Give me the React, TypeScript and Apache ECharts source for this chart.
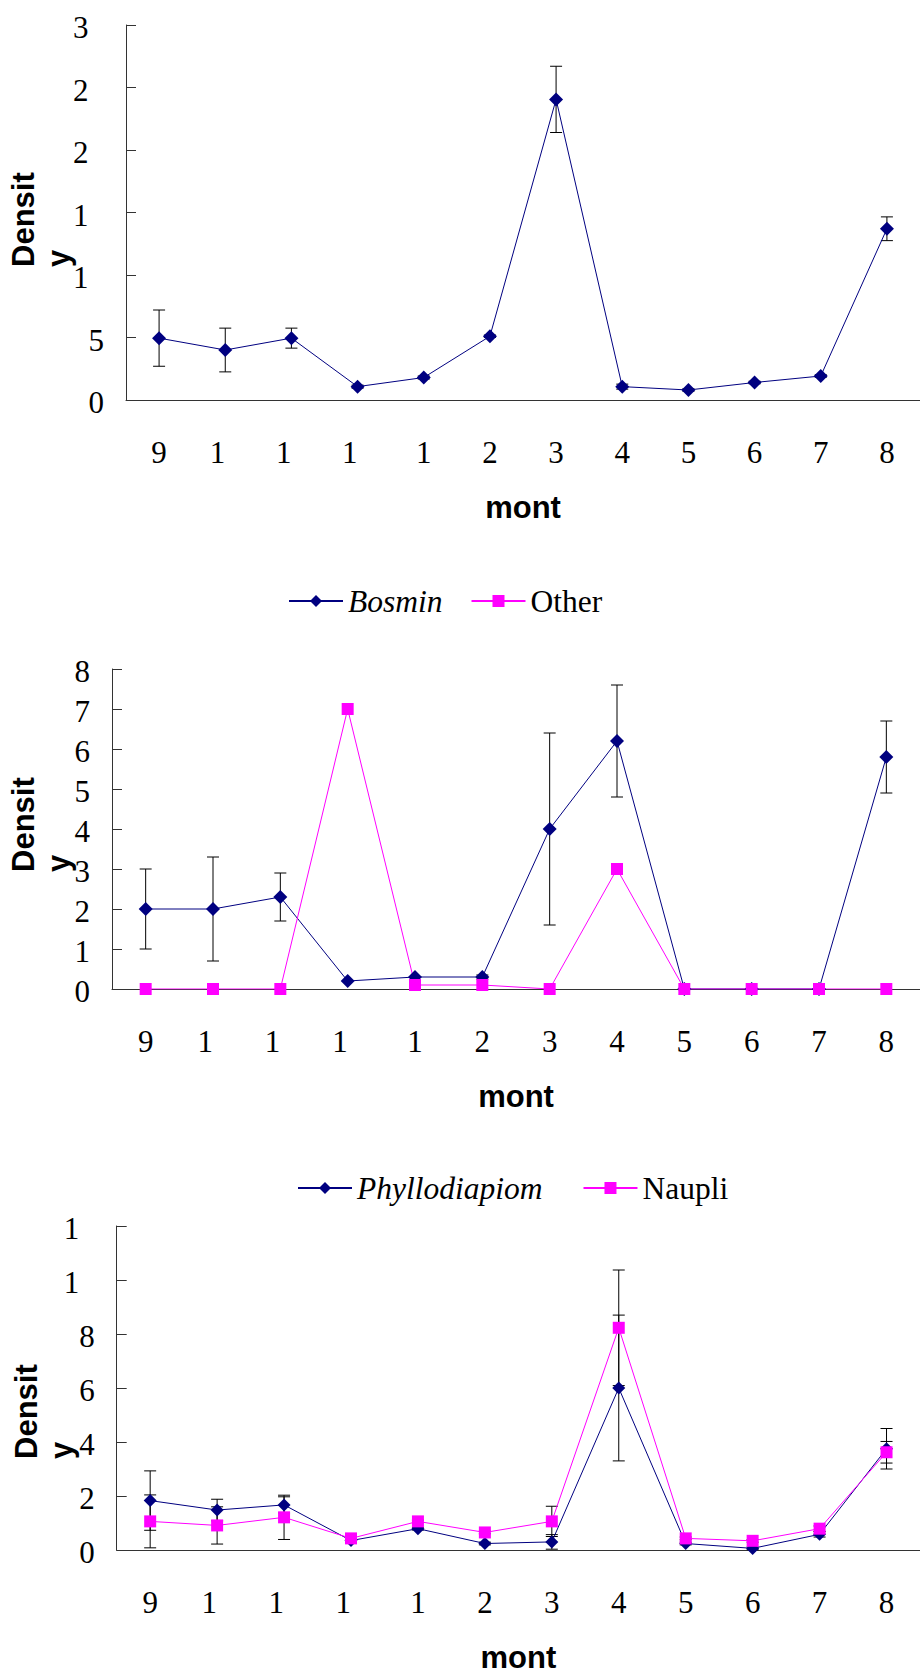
import React, { useEffect, useRef } from 'react';
import * as echarts from 'echarts';

// ---------- data ----------
const months = ['9', '10', '11', '12', '1', '2', '3', '4', '5', '6', '7', '8'];

// chart 1 (single series, y axis 0..30)
const density1 = [4.95, 4.0, 4.95, 1.07, 1.8, 5.1, 24.05, 1.07, 0.8, 1.4, 1.92, 13.7];
const density1Err = [2.25, 1.75, 0.8, 0.12, 0.12, 0.1, 2.65, 0.2, 0.1, 0.1, 0.1, 0.95];

// chart 2 (y axis 0..8)
const bosmin = [2.0, 2.0, 2.3, 0.2, 0.3, 0.3, 4.0, 6.2, 0, 0, 0, 5.8];
const bosminErr = [1.0, 1.3, 0.6, 0, 0, 0.05, 2.4, 1.4, 0, 0, 0, 0.9];
const other = [0, 0, 0, 7.0, 0.1, 0.1, 0, 3.0, 0, 0, 0, 0];

// chart 3 (y axis 0..12)
const phyllo = [1.83, 1.48, 1.67, 0.35, 0.79, 0.24, 0.3, 6.0, 0.24, 0.06, 0.58, 3.75];
const phylloErr = [1.1, 0.4, 0.3, 0.05, 0.05, 0.05, 0.27, 2.7, 0.05, 0.05, 0.1, 0.75];
const naupli = [1.06, 0.91, 1.21, 0.43, 1.06, 0.65, 1.06, 8.23, 0.43, 0.34, 0.79, 3.62];
const naupliErr = [0.98, 0.69, 0.82, 0.05, 0.05, 0.05, 0.56, 2.14, 0.05, 0.05, 0.1, 0.4];

const yAxes = [
  { max: 30, interval: 5 },
  { max: 8, interval: 1 },
  { max: 12, interval: 2 },
];

// ---------- styles ----------
const SERIF = '"Times New Roman", "Liberation Serif", serif';
const SANS = 'Arial, "Liberation Sans", sans-serif';
const NAVY = '#000080';
const MAGENTA = '#FF00FF';
const AXIS = '#333333';
const FS = 31;
const DIGIT = FS / 2;
const LFS = 31.5;

const baseTxt = { fontSize: FS, fontFamily: SERIF, color: '#000' };
const legTxt = { fontSize: LFS, fontFamily: SERIF, color: '#000' };
const xRich = {
  p0: { ...baseTxt },
  p1: { ...baseTxt, padding: [0, DIGIT, 0, 0] },
  p2: { ...baseTxt, padding: [0, DIGIT * 2, 0, 0] },
};
const yRich = {
  p0: { ...baseTxt, padding: [5, 0, 0, 0] },
  p1: { ...baseTxt, padding: [5, DIGIT, 0, 0] },
  p2: { ...baseTxt, padding: [5, DIGIT * 2, 0, 0] },
};
const firstChar = (v: any) => {
  const s = String(v);
  return `{p${s.length - 1}|${s[0]}}`;
};

const grids = [
  { left: 126, top: 25, width: 801, height: 375 },
  { left: 112, top: 669, width: 814, height: 320 },
  { left: 116.7, top: 1226, width: 810, height: 329 },
];

function errSeries(vals: number[], errs: number[], gi: number) {
  return {
    type: 'custom',
    xAxisIndex: gi,
    yAxisIndex: gi,
    z: 2,
    silent: true,
    data: vals.map((v, i) => [i, v, errs[i]]),
    encode: { x: 0, y: 1 },
    renderItem: (params: any, api: any) => {
      const i = api.value(0);
      const v = api.value(1);
      const e = api.value(2);
      if (!e) return null;
      const top = api.coord([i, v + e]);
      const bot = api.coord([i, v - e]);
      const w = 6;
      const st = { stroke: '#000', lineWidth: 1 };
      return {
        type: 'group',
        children: [
          { type: 'line', shape: { x1: top[0], y1: top[1], x2: bot[0], y2: bot[1] }, style: st },
          { type: 'line', shape: { x1: top[0] - w, y1: top[1], x2: top[0] + w, y2: top[1] }, style: st },
          { type: 'line', shape: { x1: bot[0] - w, y1: bot[1], x2: bot[0] + w, y2: bot[1] }, style: st },
        ],
      };
    },
  };
}

function lineSeries(name: string, vals: number[], gi: number, color: string, symbol: string, size: number) {
  return {
    type: 'line',
    name,
    xAxisIndex: gi,
    yAxisIndex: gi,
    data: vals,
    symbol,
    symbolSize: size,
    showAllSymbol: true,
    z: 3,
    lineStyle: { color, width: 1 },
    itemStyle: { color },
  };
}

const densityLabel = (x: number, y: number) => ({
  type: 'text',
  x,
  y,
  rotation: Math.PI / 2,
  style: {
    text: 'Densit\ny',
    font: `bold 31px ${SANS}`,
    fill: '#000',
    align: 'left',
    verticalAlign: 'top',
    lineHeight: 35,
  },
});

export default function App() {
  const ref = useRef<HTMLDivElement>(null);
  useEffect(() => {
    if (!ref.current) return;
    const chart = echarts.init(ref.current, null, { renderer: 'svg' });
    const option: any = {
      animation: false,
      backgroundColor: '#fff',
      grid: grids,
      xAxis: grids.map((_, gi) => ({
        type: 'category',
        gridIndex: gi,
        data: months,
        boundaryGap: true,
        axisLine: { lineStyle: { color: AXIS, width: 1 } },
        axisTick: { inside: true, length: 10, interval: 0, lineStyle: { color: AXIS } },
        axisLabel: { margin: 37, interval: 0, hideOverlap: false, formatter: firstChar, rich: xRich, ...baseTxt },
        name: 'mont',
        nameLocation: 'middle',
        nameGap: 92,
        nameTextStyle: { fontSize: 31, fontWeight: 'bold', fontFamily: SANS, color: '#000' },
        splitLine: { show: false },
      })),
      yAxis: yAxes.map((a, gi) => ({
        type: 'value',
        gridIndex: gi,
        min: 0,
        max: a.max,
        interval: a.interval,
        axisLine: { show: true, lineStyle: { color: AXIS, width: 1 } },
        axisTick: { show: true, inside: true, length: 10, lineStyle: { color: AXIS } },
        axisLabel: { margin: 22, formatter: firstChar, rich: yRich, ...baseTxt },
        splitLine: { show: false },
      })),
      legend: [
        {
          data: ['Bosmin', 'Other'],
          left: 283,
          top: 580,
          itemWidth: 54,
          itemHeight: 15,
          itemGap: 28,
          selectedMode: false,
          formatter: (n: string) => (n === 'Bosmin' ? `{i|${n}}` : `{r|${n}}`),
          textStyle: {
            ...legTxt,
            rich: { i: { ...legTxt, fontStyle: 'italic' }, r: { ...legTxt } },
          },
        },
        {
          data: ['Phyllodiapiom', 'Naupli'],
          left: 292,
          top: 1167,
          itemWidth: 54,
          itemHeight: 15,
          itemGap: 40,
          selectedMode: false,
          formatter: (n: string) => (n === 'Phyllodiapiom' ? `{i|${n}}` : `{r|${n}}`),
          textStyle: {
            ...legTxt,
            rich: { i: { ...legTxt, fontStyle: 'italic' }, r: { ...legTxt } },
          },
        },
      ],
      graphic: [densityLabel(6, 267), densityLabel(6, 872), densityLabel(9, 1459)],
      series: [
        errSeries(density1, density1Err, 0),
        lineSeries('Density', density1, 0, NAVY, 'diamond', 14),
        errSeries(bosmin, bosminErr, 1),
        lineSeries('Bosmin', bosmin, 1, NAVY, 'diamond', 14),
        lineSeries('Other', other, 1, MAGENTA, 'rect', 12),
        errSeries(phyllo, phylloErr, 2),
        errSeries(naupli, naupliErr, 2),
        lineSeries('Phyllodiapiom', phyllo, 2, NAVY, 'diamond', 13),
        lineSeries('Naupli', naupli, 2, MAGENTA, 'rect', 12),
      ],
    };
    chart.setOption(option);
    return () => chart.dispose();
  }, []);
  return (
    <div
      ref={ref}
      style={{ position: 'absolute', left: 0, top: 0, width: 920, height: 1674 }}
    />
  );
}
